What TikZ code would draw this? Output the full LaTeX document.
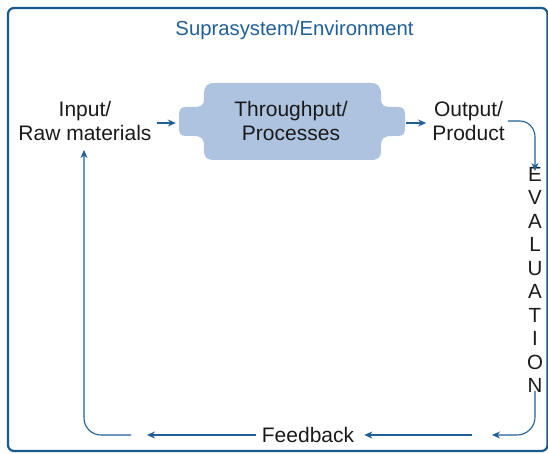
\documentclass[tikz,border=0pt]{standalone}
\usepackage{fontspec}
\setmainfont{Liberation Sans}
\usetikzlibrary{arrows.meta}
\definecolor{frameblue}{HTML}{1B5A8C}
\definecolor{arrblue}{HTML}{1F5F96}
\definecolor{boxfill}{HTML}{AEC3DF}
\definecolor{txt}{HTML}{1A1A1A}
\definecolor{titleblue}{HTML}{1F5F9A}
\begin{document}
\begin{tikzpicture}[x=1pt,y=-1pt,
  lbl/.style={font=\fontsize{21}{24}\selectfont, align=center, text=txt, inner sep=2pt},
  arr/.style={draw=arrblue, line width=1.1pt, -{Stealth[length=8pt,width=7pt]}},
  ln/.style={draw=arrblue, line width=1.1pt}]
\useasboundingbox (0,0) rectangle (548,454);
\draw[frameblue, line width=2.2pt, rounded corners=6pt] (8,8) rectangle (547.5,451);
\node[lbl, text=titleblue, font=\fontsize{20.3}{24}\selectfont] (title) at (294.5,30) {Suprasystem/Environment};
% process shape
\path[fill=boxfill] (215,83) -- (370,83) .. controls (378,83) and (381,86) .. (381,95) -- (381,98)
  .. controls (381,106) and (384,107) .. (392,107) -- (398,107)
  .. controls (404,107) and (405,110) .. (405,116) -- (405,127)
  .. controls (405,133) and (404,136) .. (398,136) -- (392,136)
  .. controls (384,136) and (381,138) .. (381,146) -- (381,150)
  .. controls (381,158) and (378,160) .. (370,160) -- (215,160)
  .. controls (207,160) and (204,158) .. (204,150) -- (204,146)
  .. controls (204,138) and (201,136) .. (193,136) -- (186,136)
  .. controls (180,136) and (179,133) .. (179,127) -- (179,116)
  .. controls (179,110) and (180,107) .. (186,107) -- (193,107)
  .. controls (201,107) and (204,106) .. (204,98) -- (204,95)
  .. controls (204,86) and (207,83) .. (215,83) -- cycle;
\node[lbl, minimum width=226pt, minimum height=53pt, inner sep=0pt] (proc) at (291,121) {Throughput/\\Processes};
\node[lbl] (input) at (85,121) {Input/\\Raw materials};
\node[lbl] (output) at (468.5,121) {Output/\\Product};
\node[lbl, font=\fontsize{20.5}{23.5}\selectfont] (eval) at (535,280) {E\\V\\A\\L\\U\\A\\T\\I\\O\\N};
\node[lbl] (feedback) at (308,435) {Feedback};
% helper coordinates
\coordinate (c1) at (492,435);
\coordinate (c2) at (472,435);
\coordinate (c3) at (147,435);
\coordinate (c4) at (131,435);
\coordinate (up) at (84,150);
\coordinate (bend) at (535,137);
% connectors
\draw[arr] ([shift={(3,2)}]input.east |- proc.west) -- ([shift={(-2,2)}]proc.west);
\draw[arr] ([shift={(2,2)}]proc.east) -- ([shift={(-4,2)}]output.west);
\draw[arr] ([xshift=1pt]output.east) -- ++(12,0) to[out=0,in=90] (bend) -- ([yshift=-6pt]eval.north);
\draw[arr] ([yshift=4pt]eval.south) -- (535,417) to[out=-90,in=0] (517,435) -- (c1);
\draw[arr] (c2) -- ([xshift=8pt]feedback.east);
\draw[arr] ([xshift=-4pt]feedback.west) -- (c3);
\draw[arr] (c4) -- (101,435) to[out=180,in=-90] (84,418) -- (up);
\end{tikzpicture}
\end{document}
